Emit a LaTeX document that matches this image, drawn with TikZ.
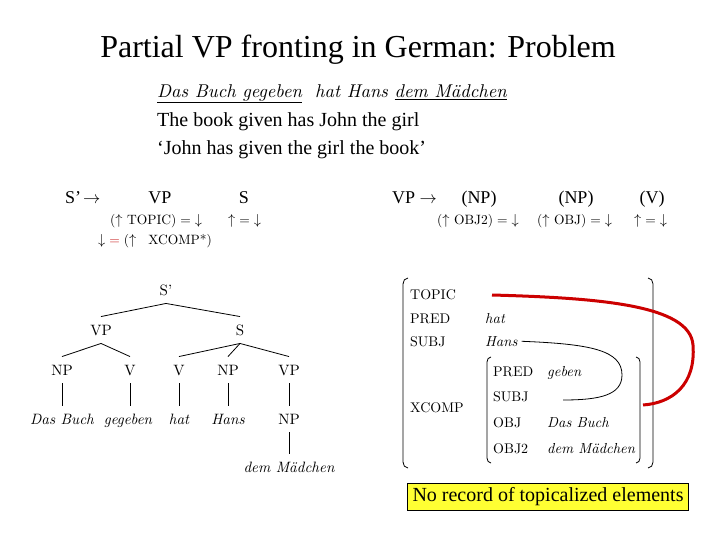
\documentclass[tikz,border=0pt]{standalone}
\usepackage{fontspec}
\setmainfont{lmroman10-regular.otf}[ItalicFont=lmroman10-italic.otf]
\newfontfamily\tnr{Liberation Serif}
\definecolor{redline}{RGB}{204,0,0}
\definecolor{redeq}{RGB}{200,30,30}
\definecolor{boxyellow}{RGB}{255,255,51}
\begin{document}
\begin{tikzpicture}[x=1pt,y=-1pt,
  every node/.style={inner sep=0pt},
  ttl/.style={font=\tnr\fontsize{32}{38}\selectfont},
  sent/.style={anchor=mid west,font=\tnr\fontsize{20}{24}\selectfont},
  germ/.style={anchor=mid west,font=\fontsize{18.5}{20}\selectfont\itshape},
  cat/.style={anchor=mid,font=\tnr\fontsize{18}{22}\selectfont},
  catw/.style={anchor=mid west,font=\tnr\fontsize{18}{22}\selectfont},
  ann/.style={anchor=mid west,font=\fontsize{13.5}{16}\selectfont},
  tn/.style={font=\fontsize{15}{18}\selectfont,text height=10.5pt,text depth=0pt,inner ysep=8pt,inner xsep=2pt},
  tl/.style={tn,font=\fontsize{15}{18}\selectfont\itshape},
  fa/.style={anchor=mid west,font=\fontsize{14}{17}\selectfont},
  fv/.style={anchor=mid west,font=\fontsize{14.5}{17}\selectfont\itshape},
  edge/.style={draw=black,line width=0.8pt},
  brk/.style={draw=black,line width=0.8pt},
  note/.style={draw=black,line width=0.8pt,fill=boxyellow,inner xsep=5pt,inner ysep=4pt,font=\tnr\fontsize{20}{24}\selectfont}]
\useasboundingbox (0,0) rectangle (720,540);
\fill[white] (0,0) rectangle (720,540);

% title and sentences
\node[ttl] (title) at (358,50) {Partial VP fronting in German: Problem};
\node[germ] (g1) at (157,95) {\underline{Das Buch gegeben}\ \ hat Hans \underline{dem Mädchen}};
\node[sent] (g2) at (157,124) {The book given has John the girl};
\node[sent] (g3) at (157,152) {‘John has given the girl the book’};

% rule 1
\node[catw] (r1a) at (65,201) {S’\hspace{2pt}$\rightarrow$};
\node[cat] (r1b) at (160,201) {VP};
\node[cat] (r1c) at (244,201) {S};
\node[ann] (r1d) at (110,222) {($\uparrow$ TOPIC)\hspace{4pt}=\hspace{4pt}$\downarrow$};
\node[ann] (r1e) at (228,222) {$\uparrow$\hspace{4pt}=\hspace{4pt}$\downarrow$};
\node[ann] (r1f) at (98,242) {$\downarrow$\hspace{4pt}\textcolor{redeq}{=}\hspace{4pt}($\uparrow$\hspace{12pt}XCOMP*)};

% rule 2
\node[catw] (r2a) at (392,201) {VP $\rightarrow$};
\node[cat] (r2b) at (479,201) {(NP)};
\node[cat] (r2c) at (576,201) {(NP)};
\node[cat] (r2d) at (652,201) {(V)};
\node[ann] (r2e) at (437,222) {($\uparrow$ OBJ2)\hspace{4pt}=\hspace{4pt}$\downarrow$};
\node[ann] (r2f) at (537,222) {($\uparrow$ OBJ)\hspace{4pt}=\hspace{4pt}$\downarrow$};
\node[ann] (r2g) at (634,222) {$\uparrow$\hspace{4pt}=\hspace{4pt}$\downarrow$};

% tree
\node[tn] (sp) at (166,290) {S’};
\node[tn] (vp) at (101,330) {VP};
\node[tn] (s) at (240,330) {S};
\node[tn] (np1) at (62,370) {NP};
\node[tn] (v1) at (130,370) {V};
\node[tn] (v2) at (179,370) {V};
\node[tn] (np2) at (228,370) {NP};
\node[tn] (vp2) at (289,370) {VP};
\node[tl] (l1) at (62,419) {Das Buch};
\node[tl] (l2) at (128,419) {gegeben};
\node[tl] (l3) at (179,419) {hat};
\node[tl] (l4) at (228,419) {Hans};
\node[tn] (np3) at (289,419) {NP};
\node[tl] (l5) at (289,467) {dem Mädchen};
\draw[edge] (sp.south) -- (vp.north);
\draw[edge] (sp.south) -- (s.north);
\draw[edge] (vp.south) -- (np1.north);
\draw[edge] (vp.south) -- (v1.north);
\draw[edge] (s.south) -- (v2.north);
\draw[edge] (s.south) -- (np2.north);
\draw[edge] (s.south) -- (vp2.north);
\draw[edge] (np1.south) -- (np1.south |- l1.north);
\draw[edge] (v1.south) -- (v1.south |- l2.north);
\draw[edge] (v2.south) -- (v2.south |- l3.north);
\draw[edge] (np2.south) -- (np2.south |- l4.north);
\draw[edge] (vp2.south) -- (np3.north);
\draw[edge] (np3.south) -- (l5.north);

% f-structure
\node[fa] (ftopic) at (410,297) {TOPIC};
\node[fa] (fpred) at (410,321) {PRED};
\node[fa] (fsubj) at (410,344) {SUBJ};
\node[fa] (fxcomp) at (410,410) {XCOMP};
\node[fv] (vhat) at (485,321) {hat};
\node[fv] (vhans) at (485,344) {Hans};
\node[fa] (ipred) at (493,374) {PRED};
\node[fa] (isubj) at (493,399) {SUBJ};
\node[fa] (iobj) at (493,425) {OBJ};
\node[fa] (iobj2) at (493,451) {OBJ2};
\node[fv] (vgeben) at (547,374) {geben};
\node[fv] (vbuch) at (547,425) {Das Buch};
\node[fv] (vmaed) at (547,451) {dem Mädchen};

% brackets
\draw[brk] (408,278) to[out=180,in=90] (403,284) -- (403,462) to[out=-90,in=180] (408,468);
\draw[brk] (648,278) to[out=0,in=90] (653,284) -- (653,462) to[out=-90,in=0] (648,468);
\draw[brk] (491,357) to[out=180,in=90] (487,362) -- (487,458) to[out=-90,in=180] (491,463);
\draw[brk] (636,357) to[out=0,in=90] (640,362) -- (640,458) to[out=-90,in=0] (636,463);

% structure sharing lines
\coordinate (subjval) at (563,400);
\draw[line width=0.8pt] ([xshift=4pt]vhans.east) .. controls (590,344) and (622,350) .. (622,375) .. controls (622,395) and (600,400) .. (subjval);
\coordinate (topicval) at (492,295);
\coordinate (xcompend) at (643,405);
\draw[redline,line width=3pt] (topicval) .. controls (600,298) and (690,305) .. (693,345) .. controls (696,385) and (672,403) .. (xcompend);

% note
\node[note] (box) at (548,497) {No record of topicalized elements};
\end{tikzpicture}
\end{document}
